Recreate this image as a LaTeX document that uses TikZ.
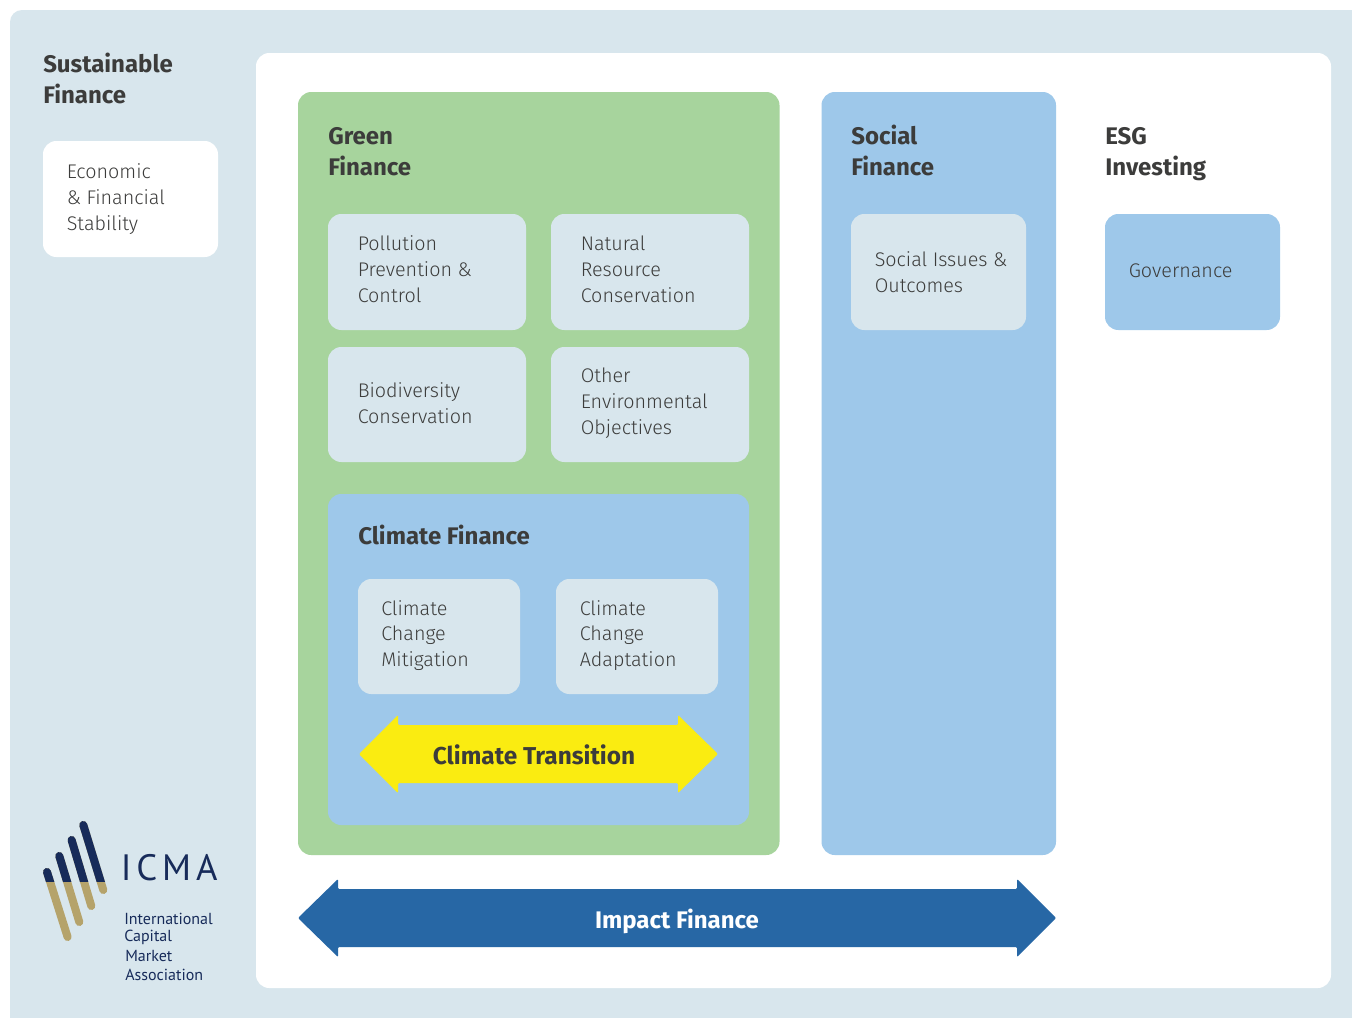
\documentclass[tikz,border=0pt]{standalone}
\usepackage{fontspec}
\setmainfont{Fira Sans}[UprightFont=* Light,BoldFont=* Bold]
\newfontfamily\logofont{PT Sans}
\definecolor{pale}{HTML}{D8E6ED}
\definecolor{green}{HTML}{A7D49D}
\definecolor{sky}{HTML}{9EC8EA}
\definecolor{ink}{HTML}{3C3C3B}
\definecolor{yel}{HTML}{FAEC11}
\definecolor{deep}{HTML}{2767A5}
\definecolor{navy}{HTML}{172B5A}
\definecolor{gold}{HTML}{B5A36B}
\tikzset{
 x=0.75pt,y=-0.75pt,
 itemtxt/.style={anchor=west,inner sep=0pt,text=ink,align=left,font=\fontsize{14.8}{19.3}\selectfont},
 head/.style={anchor=north west,inner sep=0pt,text=ink,align=left,font=\fontsize{18}{22.9}\selectfont\bfseries},
 logotxt/.style={anchor=north west,inner sep=0pt,text=navy,font=\logofont\fontsize{12}{14}\selectfont},
 bar/.style={line width=6pt,line cap=round},
}
\begin{document}
\begin{tikzpicture}
\useasboundingbox (0,0) rectangle (1352,1017);
\fill[white] (0,0) rectangle (1352,1017);
\fill[pale,rounded corners=9pt] (10,10) rectangle (1370,1040);
\fill[white,rounded corners=10pt] (256,53) rectangle (1331,988);
\fill[green,rounded corners=10pt] (298,92) rectangle (779.5,855);
\fill[sky,rounded corners=10pt] (821.5,92) rectangle (1056,855);
\fill[sky,rounded corners=10pt] (328,494) rectangle (749,825);

\node[head] (sf) at (43,53) {Sustainable\\Finance};
\node[head] (gf) at (328,127.5) {Green\\Finance};
\node[head] (so) at (851,125) {Social\\Finance};
\node[head] (esg) at (1105,127.5) {ESG\\Investing};
\node[head] (cf) at (358,525) {Climate Finance};

\newcommand{\itembox}[9]{%
 \fill[#6,rounded corners=10pt] (#2,#3) rectangle (#4,#5);
 \node[itemtxt] (#1) at (#7,{(#3+#5)/2+#8}) {#9};}
\itembox{econ}{43}{141}{218}{257}{white}{66.5}{0}{Economic\\\& Financial\\Stability}
\itembox{poll}{328}{214}{526}{330}{pale}{357.5}{-3}{Pollution\\Prevention \&\\Control}
\itembox{natu}{551}{214}{749}{330}{pale}{580.5}{-2.5}{Natural\\Resource\\Conservation}
\itembox{biod}{328}{347}{526}{462}{pale}{357.5}{-1.5}{Biodiversity\\Conservation}
\itembox{othe}{551}{347}{749}{462}{pale}{580.5}{-1.5}{Other\\Environmental\\Objectives}
\itembox{miti}{358}{579}{520}{694}{pale}{381}{-1}{Climate\\Change\\Mitigation}
\itembox{adap}{556}{579}{718}{694}{pale}{579.5}{-1}{Climate\\Change\\Adaptation}
\itembox{issu}{851}{214}{1026}{330}{pale}{874.5}{0}{Social Issues \&\\Outcomes}
\itembox{gove}{1105}{214}{1280}{330}{sky}{1128.5}{-1}{Governance}

\fill[yel,rounded corners=0.8pt] (359,754) -- (398,715) -- (398,725) -- (678,725) -- (678,715) -- (718,754) -- (678,793) -- (678,783) -- (398,783) -- (398,793) -- cycle;
\node[inner sep=0pt,text=ink,font=\fontsize{18.3}{22}\selectfont\bfseries] (ct) at (534,755) {Climate Transition};
\fill[deep,rounded corners=0.8pt] (298,918) -- (338,879) -- (338,889) -- (1017,889) -- (1017,879) -- (1056,918) -- (1017,957) -- (1017,947) -- (338,947) -- (338,957) -- cycle;
\node[inner sep=0pt,text=white,font=\fontsize{18}{22}\selectfont\bfseries] (imp) at (677,921) {Impact Finance};

\foreach \a/\b/\c/\d in {47/872/67.6/937,59.3/856/79.3/922,71.6/840/91.3/906,83.3/825/103.3/890}{
 \draw[gold,bar] (\a,\b) -- (\c,\d);
 \begin{scope}
  \clip (30,800) rectangle (130,881);
  \draw[navy,bar] (\a,\b) -- (\c,\d);
 \end{scope}
}
\node[anchor=west,inner sep=0pt,text=navy,font=\logofont\fontsize{27.5}{30}\selectfont] (icma) at (120.5,868) {I\hspace{3.7pt}C\hspace{3.7pt}M\hspace{3.7pt}A};
\node[logotxt] (l1) at (124,913) {International};
\node[logotxt] (l2) at (124,930) {Capital};
\node[logotxt] (l3) at (125,950) {Market};
\node[logotxt] (l4) at (125,969) {Association};
\end{tikzpicture}
\end{document}
